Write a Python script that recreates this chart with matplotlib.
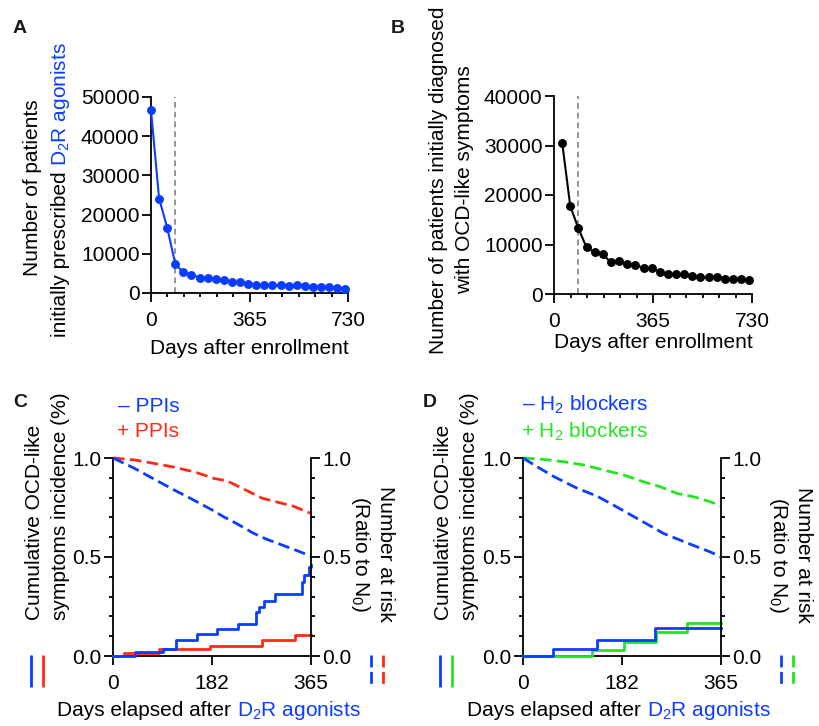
import matplotlib
matplotlib.use("Agg")
import matplotlib.pyplot as plt
from matplotlib.ticker import MultipleLocator, FormatStrFormatter

plt.rcParams['font.family'] = ['Liberation Sans', 'DejaVu Sans']
plt.rcParams['mathtext.fontset'] = 'custom'
plt.rcParams['mathtext.rm'] = 'Liberation Sans'
plt.rcParams['mathtext.it'] = 'Liberation Sans:italic'
plt.rcParams['mathtext.bf'] = 'Liberation Sans:bold'

W, H = 819, 726
BLUE = '#0a3dff'
RED = '#ff2a14'
GREEN = '#22e622'
GRAY = '#8c8c8c'
FS = 15

# --- panel A: patients initially prescribed D2R agonists
days_a = [0, 30, 60, 90, 120, 150, 180, 210, 240, 270, 300, 330, 360,
          390, 420, 450, 480, 510, 540, 570, 600, 630, 660, 690, 720]
patients_a = [46600, 24100, 16700, 7350, 5300, 4650, 3950, 3800, 3550, 3200,
              2850, 2800, 2200, 1950, 1950, 1950, 2000, 1850, 1950, 1850,
              1600, 1600, 1600, 1350, 1100]

# --- panel B: patients initially diagnosed with OCD-like symptoms
days_b = [30, 60, 90, 120, 150, 180, 210, 240, 270, 300, 330, 360,
          390, 420, 450, 480, 510, 540, 570, 600, 630, 660, 690, 720]
patients_b = [30600, 17750, 13250, 9400, 8450, 8000, 6400, 6700, 6000, 5900,
              5200, 5300, 4500, 4050, 3950, 3950, 3650, 3350, 3350, 3450,
              2950, 3050, 3000, 2800]

CUTOFF_DAY = 90

# --- panel C: PPIs
risk_noppi_days = [0, 38, 78, 120, 143, 160, 185, 204, 222, 240, 259, 284, 320, 345, 365]
risk_noppi = [1.0, 0.95, 0.89, 0.828, 0.796, 0.771, 0.734, 0.703, 0.678, 0.65, 0.62,
              0.589, 0.552, 0.526, 0.503]
risk_ppi_days = [0, 40, 75, 110, 150, 186, 210, 247, 275, 302, 332, 365]
risk_ppi = [1.0, 0.99, 0.973, 0.955, 0.93, 0.897, 0.885, 0.835, 0.797, 0.778, 0.757, 0.72]
inc_noppi_days = [0, 41, 93, 117, 154, 192, 230, 264, 270, 278, 299, 348, 353, 361, 365]
inc_noppi = [0.0, 0.018, 0.036, 0.083, 0.11, 0.134, 0.16, 0.222, 0.25, 0.279, 0.312,
             0.376, 0.408, 0.45, 0.46]
inc_ppi_days = [0, 21, 84, 178, 275, 336, 365]
inc_ppi = [0.0, 0.016, 0.036, 0.053, 0.08, 0.105, 0.105]

# --- panel D: H2 blockers
risk_noh2_days = [0, 26, 57, 100, 136, 161, 192, 229, 259, 290, 321, 345, 365]
risk_noh2 = [1.0, 0.956, 0.906, 0.847, 0.808, 0.771, 0.723, 0.666, 0.619, 0.585,
             0.551, 0.526, 0.5]
risk_h2_days = [0, 38, 75, 112, 149, 186, 222, 253, 284, 315, 345, 365]
risk_h2 = [1.0, 0.993, 0.981, 0.965, 0.939, 0.914, 0.88, 0.855, 0.821, 0.804, 0.779, 0.757]
inc_noh2_days = [0, 55, 136, 244, 365]
inc_noh2 = [0.0, 0.037, 0.083, 0.142, 0.142]
inc_h2_days = [0, 127, 187, 245, 302, 365]
inc_h2 = [0.0, 0.032, 0.071, 0.121, 0.167, 0.167]


fig = plt.figure(figsize=(W / 100, H / 100), dpi=100)


def px_axes(left, top, right, bottom):
    return fig.add_axes([left / W, 1 - bottom / H, (right - left) / W, (bottom - top) / H])


def ticks_style(ax, xpad):
    ax.tick_params(which='both', direction='out', width=1.3, labelsize=FS, color='black')
    ax.tick_params(which='major', length=6.2)
    ax.tick_params(which='minor', length=3.2)
    ax.tick_params(axis='y', pad=2)
    ax.tick_params(axis='x', pad=xpad)


def style_count(ax, ymax):
    for s in ['top', 'right']:
        ax.spines[s].set_visible(False)
    for s in ['left', 'bottom']:
        ax.spines[s].set_linewidth(1.3)
    ticks_style(ax, 7)
    ax.set_xlim(0, 730)
    ax.set_xticks([0, 365, 730])
    ax.xaxis.set_minor_locator(MultipleLocator(730 / 12))
    ax.set_ylim(0, ymax)
    ax.set_yticks(range(0, ymax + 1, 10000))
    ax.axvline(CUTOFF_DAY, color=GRAY, lw=1.3, ls=(0, (3.2, 2.2)), zorder=1)


def style_km(ax):
    ax2 = ax.twinx()
    for a in (ax, ax2):
        a.set_xlim(0, 365)
        a.set_ylim(0, 1)
        a.spines['top'].set_visible(False)
        a.set_yticks([0, 0.5, 1.0])
        a.yaxis.set_minor_locator(MultipleLocator(0.1))
        a.yaxis.set_major_formatter(FormatStrFormatter('%.1f'))
        ticks_style(a, 6.5)
        a.patch.set_visible(False)
    ax.spines['right'].set_visible(False)
    for s in ['left', 'bottom']:
        ax.spines[s].set_linewidth(1.3)
        ax2.spines[s].set_visible(False)
    ax2.spines['right'].set_linewidth(1.3)
    ax.set_xticks([0, 182, 365])
    return ax2


ax_a = px_axes(151, 97, 348, 293)
style_count(ax_a, 50000)
ax_a.plot(days_a, patients_a, '-o', color=BLUE, lw=1.5, ms=5.4, clip_on=False, zorder=3)

ax_b = px_axes(554, 96, 752, 294)
style_count(ax_b, 40000)
ax_b.plot(days_b, patients_b, '-o', color='black', lw=1.5, ms=5.4, clip_on=False, zorder=3)

DASH = (0, (4.2, 1.9))

ax_c = px_axes(113, 458, 311, 656)
ax_c2 = style_km(ax_c)
ax_c.step(inc_ppi_days, inc_ppi, where='post', color=RED, lw=2, clip_on=False, zorder=3)
ax_c.step(inc_noppi_days, inc_noppi, where='post', color=BLUE, lw=2, clip_on=False, zorder=4)
ax_c2.plot(risk_ppi_days, risk_ppi, color=RED, lw=2, ls=DASH, clip_on=False)
ax_c2.plot(risk_noppi_days, risk_noppi, color=BLUE, lw=2, ls=DASH, clip_on=False)

ax_d = px_axes(523, 458, 721, 656)
ax_d2 = style_km(ax_d)
ax_d.step(inc_h2_days, inc_h2, where='post', color=GREEN, lw=2, clip_on=False, zorder=3)
ax_d.step(inc_noh2_days, inc_noh2, where='post', color=BLUE, lw=2, clip_on=False, zorder=4)
ax_d2.plot(risk_h2_days, risk_h2, color=GREEN, lw=2, ls=DASH, clip_on=False)
ax_d2.plot(risk_noh2_days, risk_noh2, color=BLUE, lw=2, ls=DASH, clip_on=False)

# overlay in pixel coordinates for labels
ov = fig.add_axes([0, 0, 1, 1])
ov.set_xlim(0, W)
ov.set_ylim(H, 0)
ov.axis('off')
ov.patch.set_visible(False)

SPACE = 0.278 * FS * 100 / 72


def txt(x, y, s, color='black', rot=0, ha='left', **kw):
    return ov.text(x, y, s, color=color, fontsize=FS, rotation=rot,
                   rotation_mode='anchor', ha=ha, va='baseline', **kw)


def two_tone(x, y, black, blue, rot=0):
    t = txt(x, y, black, rot=rot)
    fig.canvas.draw()
    bb = t.get_window_extent()
    if rot == 90:
        txt(x, H - bb.y1 - SPACE, blue, color=BLUE, rot=rot)
    else:
        txt(bb.x1 + SPACE, y, blue, color=BLUE, rot=rot)


# panel letters
for letter, x, y in [('A', 13, 33), ('B', 391, 33), ('C', 13, 407), ('D', 423, 407)]:
    ov.text(x, y, letter, fontsize=14, fontweight='bold', color='#1a1a1a', va='baseline')

# panel A labels
txt(38, 188, 'Number of patients', rot=90, ha='center')
two_tone(66, 337, 'initially prescribed', 'D$_2$R agonists', rot=90)
txt(249.5, 354, 'Days after enrollment', ha='center')

# panel B labels
txt(444, 180, 'Number of patients initially diagnosed', rot=90, ha='center')
txt(470, 180, 'with OCD-like symptoms', rot=90, ha='center')
txt(653.5, 348, 'Days after enrollment', ha='center')

# panel C labels
txt(40, 620, 'Cumulative OCD-like', rot=90)
txt(66, 620, 'symptoms incidence (%)', rot=90)
txt(380, 554, 'Number at risk', rot=270, ha='center')
txt(355, 554, '(Ratio to N$_0$)', rot=270, ha='center')
two_tone(57, 716, 'Days elapsed after', 'D$_2$R agonists')
txt(118, 412, '– PPIs', color=BLUE)
txt(117, 437, '+ PPIs', color=RED)

# panel D labels
txt(449, 620, 'Cumulative OCD-like', rot=90)
txt(475, 620, 'symptoms incidence (%)', rot=90)
txt(798, 555, 'Number at risk', rot=270, ha='center')
txt(773, 555, '(Ratio to N$_0$)', rot=270, ha='center')
two_tone(467, 716, 'Days elapsed after', 'D$_2$R agonists')
txt(522, 411, '– H$_2$ blockers', color=BLUE)
txt(521, 438, '+ H$_2$ blockers', color=GREEN)

# line-style keys under the panels
for x, c in [(31, BLUE), (42.7, RED), (440, BLUE), (451.5, GREEN)]:
    ov.plot([x, x], [655, 687], color=c, lw=2, solid_capstyle='butt')
for x, c in [(371, BLUE), (382.7, RED), (781, BLUE), (793, GREEN)]:
    ov.plot([x, x], [655, 684], color=c, lw=2, ls=(0, (4.3, 1.6)))

fig.savefig('out.png', dpi=100)
